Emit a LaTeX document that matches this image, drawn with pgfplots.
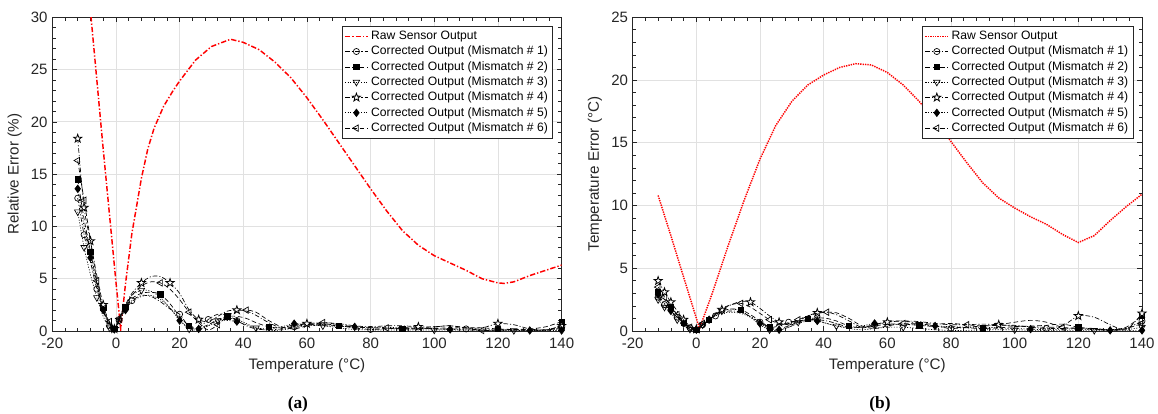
\documentclass[border=0pt]{standalone}
\usepackage{fontspec}
\setmainfont{Liberation Sans}
\newfontfamily\capfont{Liberation Serif}
\usepackage{pgfplots}
\pgfplotsset{compat=1.18}
\usepackage{pgfplotstable}
\usetikzlibrary{plotmarks}
\definecolor{axgray}{RGB}{38,38,38}
\definecolor{gridgray}{RGB}{225,225,225}

\pgfdeclareplotmark{pentagram}{%
  \pgfpathmoveto{\pgfpointpolar{90}{\pgfplotmarksize}}%
  \pgfpathlineto{\pgfpointpolar{126}{0.4\pgfplotmarksize}}%
  \pgfpathlineto{\pgfpointpolar{162}{\pgfplotmarksize}}%
  \pgfpathlineto{\pgfpointpolar{198}{0.4\pgfplotmarksize}}%
  \pgfpathlineto{\pgfpointpolar{234}{\pgfplotmarksize}}%
  \pgfpathlineto{\pgfpointpolar{270}{0.4\pgfplotmarksize}}%
  \pgfpathlineto{\pgfpointpolar{306}{\pgfplotmarksize}}%
  \pgfpathlineto{\pgfpointpolar{342}{0.4\pgfplotmarksize}}%
  \pgfpathlineto{\pgfpointpolar{18}{\pgfplotmarksize}}%
  \pgfpathlineto{\pgfpointpolar{54}{0.4\pgfplotmarksize}}%
  \pgfpathclose
  \pgfusepathqfillstroke
}

\pgfplotstableread{
x s1 s2 s3 s4 s5 s6
-12 12.7 14.5 11.4 18.4 13.6 16.3
-10 9.2 10.7 8.0 11.8 10.0 12.5
-8 6.6 7.6 5.4 8.6 7.0 8.7
-6 4.0 4.6 3.2 5.3 4.3 4.8
-4 1.9 2.2 1.4 2.5 2.0 2.0
-2 0.5 0.7 0.3 0.8 0.6 0.9
-0.5 0.1 0.2 0.05 0.2 0.15 0.2
1 1.0 1.1 1.0 1.3 1.0 1.2
3 2.2 2.3 2.4 2.5 2.0 2.4
5 2.9 3.1 3.4 3.6 2.8 3.4
8 3.4 3.6 3.9 4.6 3.3 4.3
11 3.3 3.7 3.8 5.2 3.4 4.7
14 2.8 3.5 3.2 5.2 3.0 4.6
17 2.1 2.6 2.2 4.6 2.2 4.0
20 1.6 1.4 1.1 3.6 1.0 3.0
23 0.4 0.5 0.2 2.0 0.3 1.8
26 0.3 0.3 0.1 1.1 0.2 0.8
29 1.1 0.6 0.5 0.9 0.5 0.1
32 1.6 1.1 1.0 1.4 0.9 0.6
35 1.5 1.4 1.2 1.9 1.0 1.4
38 1.0 1.4 1.1 2.0 0.9 1.9
41 0.5 1.2 0.7 1.9 0.6 2.0
44 0.2 0.8 0.3 1.5 0.3 1.8
48 0.1 0.4 0.05 0.8 0.2 1.0
52 0.2 0.3 0.1 0.3 0.4 0.4
56 0.4 0.6 0.3 0.5 0.7 0.2
60 0.6 0.7 0.5 0.7 0.6 0.5
65 0.7 0.6 0.5 0.8 0.5 0.8
70 0.5 0.5 0.3 0.7 0.45 0.6
75 0.3 0.4 0.15 0.5 0.4 0.4
80 0.15 0.3 0.1 0.4 0.35 0.3
85 0.2 0.25 0.1 0.5 0.35 0.3
90 0.3 0.2 0.1 0.5 0.3 0.2
95 0.3 0.2 0.1 0.4 0.25 0.3
100 0.2 0.25 0.1 0.4 0.2 0.4
105 0.2 0.3 0.1 0.5 0.15 0.5
110 0.2 0.3 0.1 0.3 0.1 0.3
115 0.1 0.3 0.05 0.3 0.1 0.05
120 0.1 0.2 0.05 0.7 0.1 0.1
125 0.1 0.15 0.05 0.6 0.1 0.15
130 0.1 0.2 0.05 0.2 0.05 0.1
135 0.1 0.4 0.1 0.1 0.05 0.1
140 0.3 0.9 0.2 0.5 0.05 0.4
}\leftdata

\pgfplotstableread{
x s1 s2 s3 s4 s5 s6
-12 2.7 3.1 2.5 4.0 2.9 3.5
-10 2.1 2.5 1.9 3.1 2.2 2.7
-8 1.6 1.9 1.4 2.3 1.6 2.0
-6 1.1 1.3 0.9 1.6 1.1 1.3
-4 0.6 0.7 0.45 0.9 0.6 0.7
-2 0.25 0.3 0.15 0.4 0.25 0.3
0 0.1 0.1 0.05 0.15 0.1 0.1
2 0.5 0.5 0.5 0.5 0.5 0.6
4 0.9 0.9 0.9 0.9 0.9 1.0
6 1.2 1.3 1.3 1.3 1.2 1.4
8 1.5 1.6 1.6 1.7 1.4 1.8
11 1.6 1.75 1.75 2.1 1.5 2.1
14 1.5 1.7 1.6 2.35 1.4 2.2
17 1.15 1.3 1.1 2.3 1.1 1.9
20 0.7 0.8 0.5 1.8 0.6 1.4
23 0.3 0.3 0.1 1.2 0.2 0.9
26 0.4 0.2 0.05 0.7 0.1 0.6
29 0.7 0.4 0.3 0.5 0.3 0.6
32 0.8 0.7 0.7 0.8 0.6 0.9
35 0.9 0.95 0.9 1.2 0.8 1.2
38 0.9 1.05 0.8 1.45 0.8 1.4
41 0.8 1.0 0.6 1.5 0.6 1.5
44 0.6 0.8 0.4 1.3 0.4 1.45
48 0.3 0.4 0.2 0.8 0.3 1.0
52 0.3 0.25 0.1 0.3 0.4 0.4
56 0.5 0.4 0.2 0.5 0.6 0.2
60 0.75 0.55 0.3 0.7 0.55 0.4
65 0.8 0.55 0.3 0.8 0.5 0.6
70 0.6 0.45 0.2 0.75 0.5 0.6
75 0.4 0.35 0.1 0.6 0.4 0.55
80 0.2 0.3 0.05 0.5 0.35 0.6
85 0.3 0.25 0.05 0.5 0.3 0.5
90 0.4 0.2 0.1 0.55 0.3 0.4
95 0.45 0.25 0.1 0.5 0.25 0.5
100 0.45 0.35 0.1 0.4 0.2 0.7
105 0.3 0.4 0.05 0.35 0.15 0.85
110 0.2 0.45 0.05 0.3 0.1 0.7
115 0.2 0.55 0.05 0.4 0.15 0.3
120 0.25 0.3 0.05 1.2 0.15 0.2
125 0.2 0.15 0.05 1.1 0.1 0.15
130 0.1 0.1 0.05 0.5 0.05 0.1
135 0.2 0.3 0.1 0.1 0.05 0.2
140 0.8 1.2 0.3 1.4 0.05 0.6
}\rightdata

\pgfplotstableread{
x y
-12 43.3
-8 30.6
-4 17.4
0 4.7
1.5 0.2
3 4.5
5 9.3
8 14.6
10 17.4
12 19.4
15 21.5
18 23.0
20 23.9
25 25.9
30 27.2
36 27.9
40 27.6
45 26.9
50 25.7
55 24.2
60 22.3
65 20.2
70 18.0
75 15.8
80 13.6
85 11.5
90 9.6
95 8.2
100 7.2
105 6.5
110 5.8
115 5.0
120 4.6
122 4.55
125 4.7
130 5.3
135 5.8
140 6.3
}\leftraw

\pgfplotstableread{
x y
-12 10.8
-8 7.6
-4 4.3
1 0.2
5 3.0
10 6.8
15 10.4
20 13.7
25 16.4
30 18.3
35 19.6
40 20.4
45 21.0
50 21.3
55 21.2
60 20.6
65 19.6
70 18.3
75 16.8
80 15.1
85 13.4
90 11.8
95 10.6
100 9.8
105 9.1
110 8.5
115 7.7
120 7.05
125 7.6
130 8.8
135 9.9
140 10.9
}\rightraw

\pgfplotsset{
  myaxis/.style={
    scale only axis, width=382pt, height=235.3pt,
    xmin=-20, xmax=140, ymin=0,
    xtick={-20,0,...,140}, minor x tick num=4, minor y tick num=4,
    tick align=inside, major tick length=3.5pt, minor tick length=2.5pt,
    grid=major, major grid style={gridgray, line width=0.6pt},
    axis line style={axgray, line width=0.6pt},
    every tick/.style={axgray, line width=0.5pt},
    ticklabel style={font=\fontsize{11.25}{13}\selectfont, text=axgray},
    xticklabel style={yshift=-2pt},
    label style={font=\fontsize{11.4}{13}\selectfont, text=axgray},
    /pgf/number format/assume math mode=true,
    legend style={at={(0.983,0.972)}, anchor=north east, draw=axgray,
      line width=0.6pt, fill=white, font=\fontsize{9.1}{10.5}\selectfont,
      text=black, inner sep=1.5pt, row sep=-0.6pt},
    legend cell align=left,
    clip mode=individual,
  },
  leg/.style={legend image code/.code={%
    \draw[mark=none] (0cm,0cm) -- (0.6cm,0cm);
    \draw[solid, sharp plot] plot coordinates {(0.3cm,0cm)};}},
  c1/.style={black, line width=0.5pt, smooth, tension=0.5, dash pattern=on 3.5pt off 1.5pt on 0.8pt off 1.5pt,
    mark=o, mark size=2.3pt, mark options={solid, fill=white}, leg},
  c2/.style={black, line width=0.5pt, smooth, tension=0.5, dash pattern=on 3.5pt off 2pt,
    mark=square*, mark size=2pt, mark options={solid}, leg},
  c3/.style={black, line width=0.5pt, smooth, tension=0.5, dash pattern=on 0.8pt off 1.2pt,
    mark=triangle, mark size=2.8pt, mark options={solid, rotate=180, fill=white}, leg},
  c4/.style={black, line width=0.5pt, smooth, tension=0.5, dash pattern=on 3.5pt off 1.5pt on 0.8pt off 1.5pt,
    mark=pentagram, mark size=3.2pt, mark options={solid, fill=white, line width=0.6pt}, leg},
  c5/.style={black, line width=0.5pt, smooth, tension=0.5, dash pattern=on 0.8pt off 1.2pt,
    mark=diamond*, mark size=2.8pt, mark options={solid}, leg},
  c6/.style={black, line width=0.5pt, smooth, tension=0.5, dash pattern=on 3.5pt off 2pt,
    mark=triangle, mark size=2.8pt, mark options={solid, rotate=90, fill=white}, leg},
}

\begin{document}
\begin{tikzpicture}
\useasboundingbox (0,0) rectangle (868.5pt,310.5pt);

\begin{axis}[myaxis, at={(39.2pt,62.25pt)}, anchor=south west,
  ymax=30, ytick={0,5,...,30},
  xlabel={Temperature (°C)}, ylabel={Relative Error (\%)}]
\addplot[red, line width=1.1pt, dash pattern=on 4pt off 1.5pt on 1pt off 1.5pt] table[x=x,y=y]{\leftraw};
\addlegendentry{Raw Sensor Output}
\addplot[c1, mark indices={1,2,4,6,8,10,15,18,21,26,31,37,43}] table[x=x,y=s1]{\leftdata};
\addlegendentry{Corrected Output (Mismatch \# 1)}
\addplot[c2, mark indices={1,3,5,7,9,13,16,20,24,29,33,39,43}] table[x=x,y=s2]{\leftdata};
\addlegendentry{Corrected Output (Mismatch \# 2)}
\addplot[c3, mark indices={1,2,4,6,8,11,16,19,23,28,35,40,43}] table[x=x,y=s3]{\leftdata};
\addlegendentry{Corrected Output (Mismatch \# 3)}
\addplot[c4, mark indices={1,2,3,5,7,11,14,17,21,27,34,39,43}] table[x=x,y=s4]{\leftdata};
\addlegendentry{Corrected Output (Mismatch \# 4)}
\addplot[c5, mark indices={1,3,5,7,9,15,17,21,26,30,36,41,43}] table[x=x,y=s5]{\leftdata};
\addlegendentry{Corrected Output (Mismatch \# 5)}
\addplot[c6, mark indices={1,2,4,6,8,13,16,19,22,28,32,38,43}] table[x=x,y=s6]{\leftdata};
\addlegendentry{Corrected Output (Mismatch \# 6)}
\end{axis}

\begin{axis}[myaxis, at={(474.5pt,62.25pt)}, anchor=south west,
  ymax=25, ytick={0,5,...,25},
  xlabel={Temperature (°C)}, ylabel={Temperature Error (°C)}]
\addplot[red, line width=1.1pt, dash pattern=on 1pt off 0.8pt] table[x=x,y=y]{\rightraw};
\addlegendentry{Raw Sensor Output}
\addplot[c1, mark indices={1,2,4,6,8,10,15,18,21,26,31,37,43}] table[x=x,y=s1]{\rightdata};
\addlegendentry{Corrected Output (Mismatch \# 1)}
\addplot[c2, mark indices={1,3,5,7,9,13,16,20,24,29,33,39,43}] table[x=x,y=s2]{\rightdata};
\addlegendentry{Corrected Output (Mismatch \# 2)}
\addplot[c3, mark indices={1,2,4,6,8,11,16,19,23,28,35,40,43}] table[x=x,y=s3]{\rightdata};
\addlegendentry{Corrected Output (Mismatch \# 3)}
\addplot[c4, mark indices={1,2,3,5,7,11,14,17,21,27,34,39,43}] table[x=x,y=s4]{\rightdata};
\addlegendentry{Corrected Output (Mismatch \# 4)}
\addplot[c5, mark indices={1,3,5,7,9,15,17,21,26,30,36,41,43}] table[x=x,y=s5]{\rightdata};
\addlegendentry{Corrected Output (Mismatch \# 5)}
\addplot[c6, mark indices={1,2,4,6,8,13,16,19,22,28,32,38,43}] table[x=x,y=s6]{\rightdata};
\addlegendentry{Corrected Output (Mismatch \# 6)}
\end{axis}

\node[font=\capfont\bfseries\fontsize{13}{15}\selectfont] at (223.4pt,7pt) {(a)};
\node[font=\capfont\bfseries\fontsize{13}{15}\selectfont] at (660pt,7pt) {(b)};
\end{tikzpicture}
\end{document}
